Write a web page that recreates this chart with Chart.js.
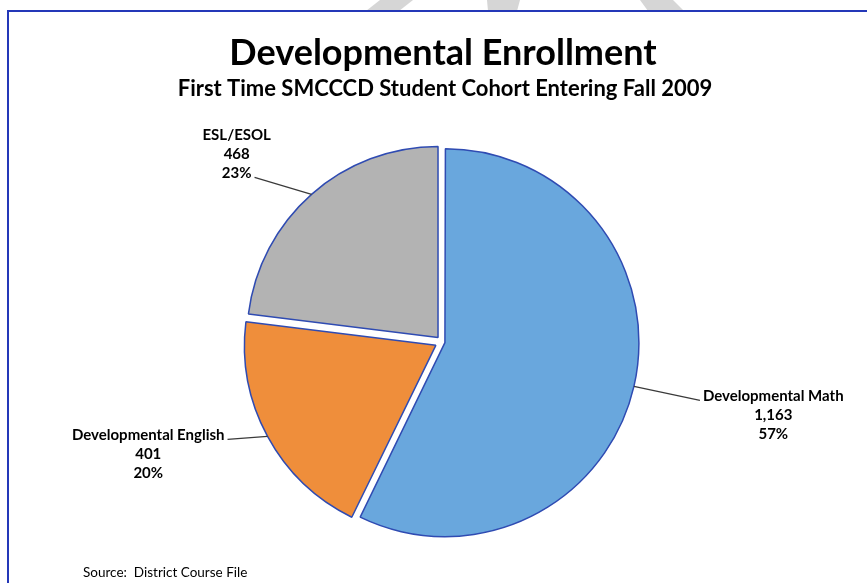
<!DOCTYPE html>
<html>
<head>
<meta charset="utf-8">
<title>Developmental Enrollment</title>
<script src="https://cdn.jsdelivr.net/npm/chart.js@4.4.1/dist/chart.umd.min.js"></script>
<style>
  html, body { margin: 0; padding: 0; background: #fff; overflow: hidden; }
  canvas { display: block; }
</style>
</head>
<body>
<canvas id="c" width="867" height="583"></canvas>
<script>
// ---- data ----
const categories = ['Developmental Math', 'Developmental English', 'ESL/ESOL'];
const enrollment = [1163, 401, 468];
const titleText = 'Developmental Enrollment';
const subtitleText = 'First Time SMCCCD Student Cohort Entering Fall 2009';
const sourceText = 'Source:  District Course File';

// ---- styling ----
const sliceColors = ['#69A7DD', '#EF8E3B', '#B3B3B3'];
const sliceOffsets = [12, 28, 24];
const FONT = 'Lato, "Open Sans", sans-serif';

// leader line for each slice label: elbow shift from the rim point,
// the side the text sits on, and the text line the leader joins
const labelLayout = [
  { dx: 66, dy: 14, side: 'right', attach: 0 },
  { dx: -40, dy: 3, side: 'left', attach: 0 },
  { dx: -57, dy: -17, side: 'left', attach: 2 }
];

const total = enrollment.reduce((a, b) => a + b, 0);

// white page, faint watermark edges above the frame, blue frame lines
const framePlugin = {
  id: 'frame',
  beforeDraw(chart) {
    const ctx = chart.ctx;
    ctx.save();
    ctx.fillStyle = '#fff';
    ctx.fillRect(0, 0, chart.width, chart.height);
    ctx.fillStyle = '#D6D6D6';
    [[[380, 0], [413, 0], [399, 11], [366, 11]],
     [[487, 0], [520, 0], [517, 11], [488, 11]],
     [[640, 0], [673, 0], [684, 11], [648, 11]]].forEach(p => {
      ctx.beginPath();
      ctx.moveTo(p[0][0], p[0][1]);
      for (let k = 1; k < p.length; k++) ctx.lineTo(p[k][0], p[k][1]);
      ctx.closePath();
      ctx.fill();
    });
    ctx.strokeStyle = '#2438B8';
    ctx.lineWidth = 2;
    ctx.beginPath();
    ctx.moveTo(8, chart.height);
    ctx.lineTo(8, 11);
    ctx.lineTo(chart.width, 11);
    ctx.stroke();
    ctx.restore();
  }
};

// titles, source note, and slice labels with leader lines
const textPlugin = {
  id: 'texts',
  afterDatasetsDraw(chart) {
    const ctx = chart.ctx;
    ctx.save();
    ctx.fillStyle = '#000';
    ctx.textAlign = 'center';
    ctx.textBaseline = 'alphabetic';
    ctx.font = 'bold 36px ' + FONT;
    ctx.fillText(titleText, 443, 65);
    ctx.font = 'bold 22px ' + FONT;
    ctx.fillText(subtitleText, 445, 96);
    ctx.textAlign = 'left';
    ctx.font = '13.5px ' + FONT;
    ctx.fillText(sourceText, 83, 577);

    const meta = chart.getDatasetMeta(0);
    const offsets = chart.data.datasets[0].offset;
    const lh = 19;
    meta.data.forEach((arc, i) => {
      const p = arc.getProps(['x', 'y', 'startAngle', 'endAngle', 'outerRadius', 'circumference'], true);
      const mid = (p.startAngle + p.endAngle) / 2;
      const off = offsets[i] / 4;
      const shift = off + off * (1 - Math.sin(Math.min(Math.PI, p.circumference)));
      const r = p.outerRadius + shift;
      const rx = p.x + Math.cos(mid) * r;
      const ry = p.y + Math.sin(mid) * r;
      const L = labelLayout[i];
      const ex = rx + L.dx, ey = ry + L.dy;

      ctx.strokeStyle = '#3A3A3A';
      ctx.lineWidth = 1.2;
      ctx.beginPath();
      ctx.moveTo(rx, ry);
      ctx.lineTo(ex, ey);
      ctx.stroke();

      const pct = Math.round(enrollment[i] / total * 100) + '%';
      const lines = [categories[i], enrollment[i].toLocaleString('en-US'), pct];
      ctx.font = 'bold 15px ' + FONT;
      ctx.textAlign = 'center';
      ctx.textBaseline = 'middle';
      const wa = ctx.measureText(lines[L.attach]).width;
      const gap = 3;
      const cx = L.side === 'right' ? ex + gap + wa / 2 : ex - gap - wa / 2;
      const y0 = ey - 4 - L.attach * lh;
      lines.forEach((t, k) => ctx.fillText(t, cx, y0 + k * lh));
    });
    ctx.restore();
  }
};

new Chart(document.getElementById('c').getContext('2d'), {
  type: 'pie',
  data: {
    labels: categories,
    datasets: [{
      data: enrollment,
      backgroundColor: sliceColors,
      borderColor: '#2F4BB2',
      borderWidth: 1.5,
      offset: sliceOffsets,
      hoverOffset: 0,
      radius: 191
    }]
  },
  options: {
    responsive: false,
    animation: false,
    events: [],
    layout: { padding: { left: 17, right: 0, top: 111, bottom: 10 } },
    plugins: {
      legend: { display: false },
      tooltip: { enabled: false },
      title: { display: false }
    }
  },
  plugins: [framePlugin, textPlugin]
});
</script>
</body>
</html>
